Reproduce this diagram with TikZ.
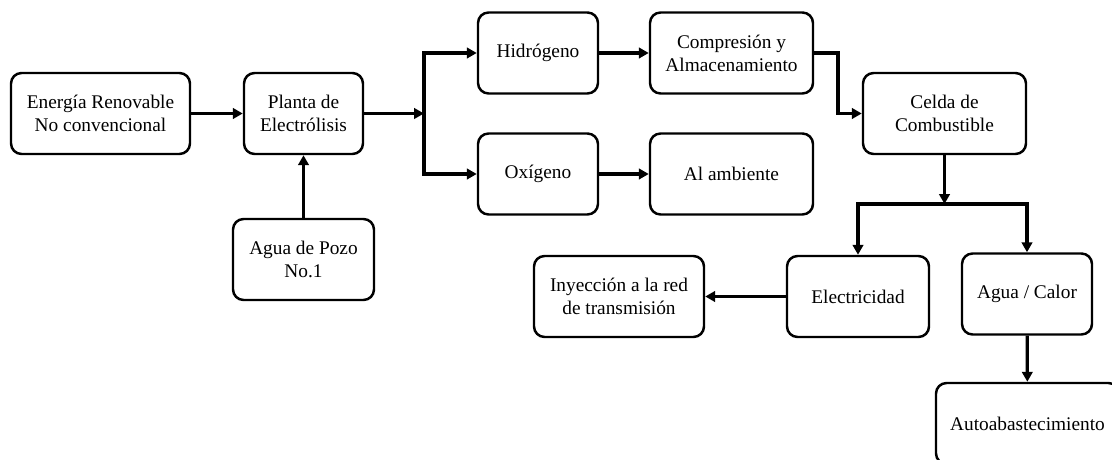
\documentclass[tikz,border=0pt]{standalone}
\usepackage{fontspec}
\setmainfont{Liberation Serif}
\usetikzlibrary{arrows.meta, positioning}

\begin{document}
\begin{tikzpicture}[x=0.03cm, y=-0.03cm,
  caja/.style={draw, line width=2.1pt, rounded corners=9pt, align=center,
               inner sep=1pt, minimum height=2.43cm,
               font=\fontsize{16.5}{19.5}\selectfont},
  flecha/.style={line width=2.8pt, -{Triangle[length=8.5pt,width=9pt]}}]
  \path[use as bounding box, clip] (0,0) rectangle (1112,460);

  \node[caja, minimum width=5.37cm] (energia) at (100.5,113.5) {Energía Renovable\\No convencional};
  \node[caja, minimum width=3.57cm] (planta) at (303.5,113.5) {Planta de\\Electrólisis};
  \node[caja, minimum width=4.23cm] (pozo) at (303.5,259.5) {Agua de Pozo\\No.1};
  \node[caja, minimum width=3.6cm] (hidrogeno) at (538,53) {Hidrógeno};
  \node[caja, minimum width=3.6cm] (oxigeno) at (538,174) {Oxígeno};
  \node[caja, minimum width=4.89cm] (compresion) at (731.5,53) {Compresión y\\Almacenamiento};
  \node[caja, minimum width=4.89cm] (ambiente) at (731.5,174) {Al ambiente};
  \node[caja, minimum width=4.89cm] (celda) at (944.5,113.5) {Celda de\\Combustible};
  \node[caja, minimum width=4.26cm] (electricidad) at (858,296.5) {Electricidad};
  \node[caja, minimum width=3.9cm] (calor) at (1027,294) {Agua / Calor};
  \node[caja, minimum width=5.1cm] (inyeccion) at (619,296.5) {Inyección a la red\\de transmisión};
  \node[caja, minimum width=5.49cm] (auto) at (1027.5,423.5) {Autoabastecimiento};

  \coordinate (div1) at (424,113.5);
  \coordinate (codo) at (838,53);
  \coordinate (div2) at (944.5,204);

  \draw[flecha] (energia) -- (planta);
  \draw[flecha] (pozo) -- (planta);
  \draw[flecha] (planta) -- (div1);
  \draw[flecha] (div1) |- (hidrogeno);
  \draw[flecha] (div1) |- (oxigeno);
  \draw[flecha] (hidrogeno) -- (compresion);
  \draw[flecha] (oxigeno) -- (ambiente);
  \draw[flecha] (compresion) -- (codo) |- (celda);
  \draw[flecha] (celda) -- (div2);
  \draw[flecha] (div2) -| (electricidad);
  \draw[flecha] (div2) -| (calor);
  \draw[flecha] (electricidad) -- (inyeccion);
  \draw[flecha] (calor) -- (auto);
\end{tikzpicture}
\end{document}
